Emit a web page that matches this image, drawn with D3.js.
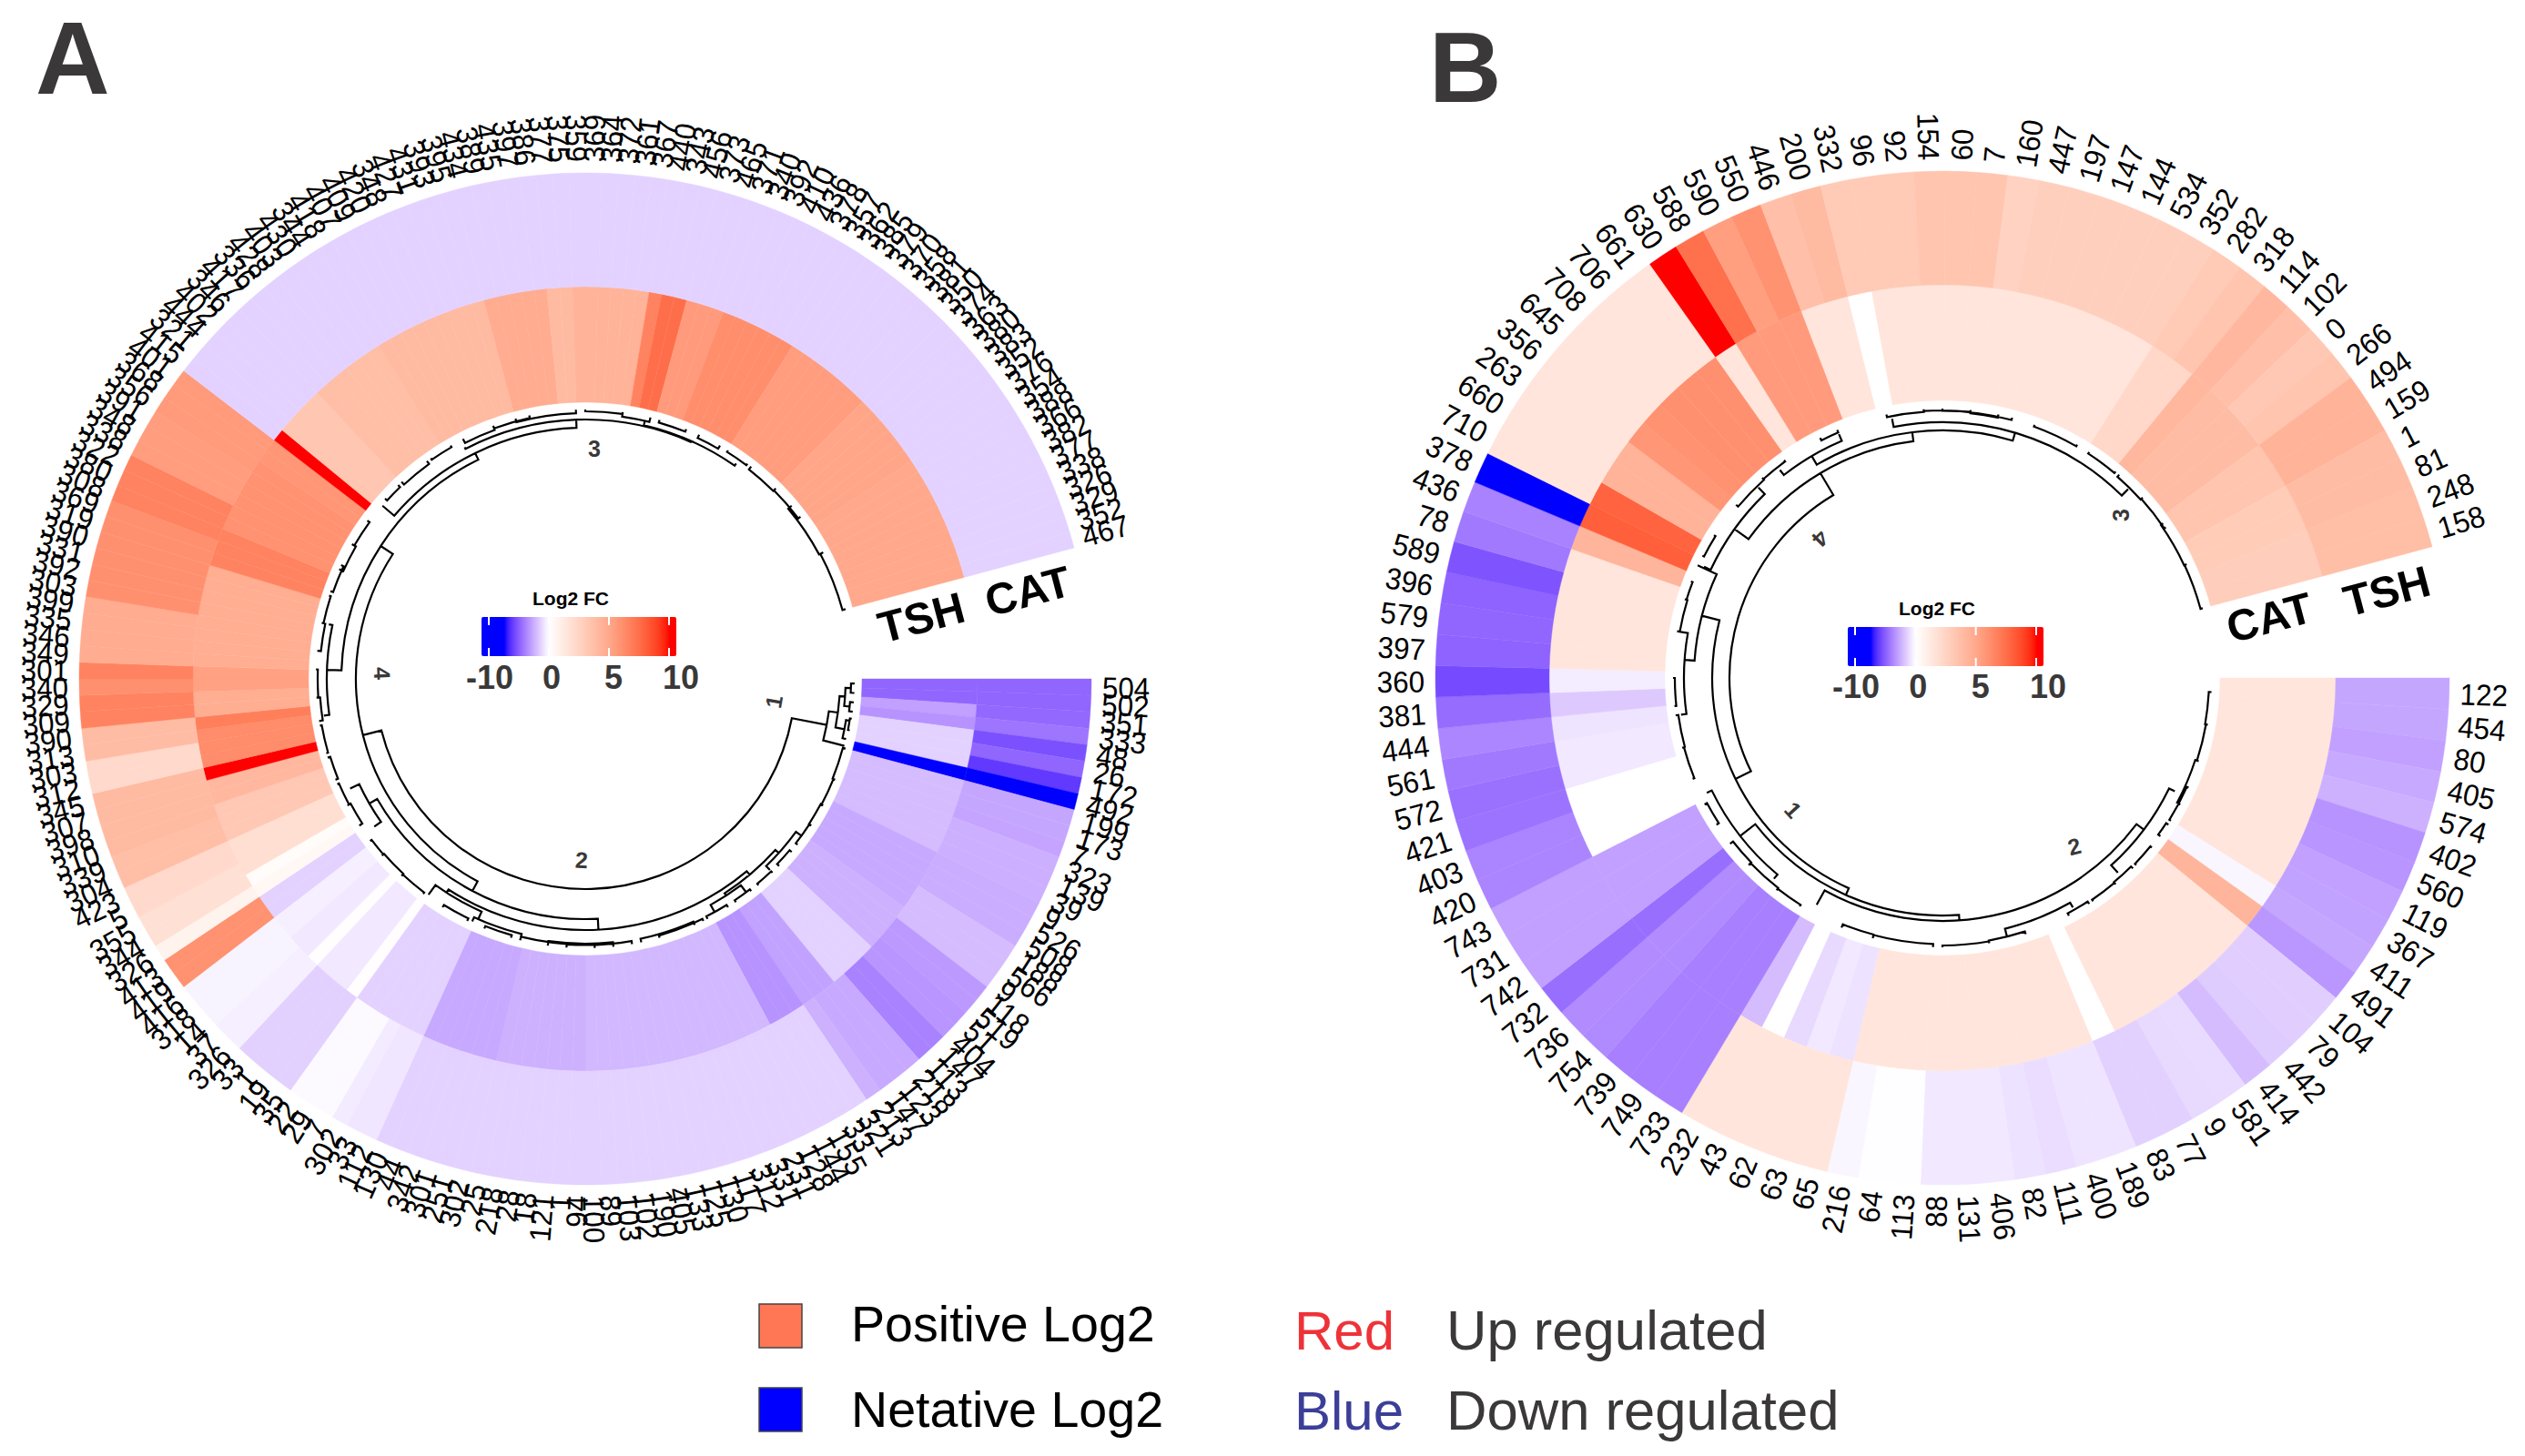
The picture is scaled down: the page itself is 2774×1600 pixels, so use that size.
<!DOCTYPE html>
<html><head><meta charset="utf-8">
<script src="https://cdn.jsdelivr.net/npm/d3@7"></script>
<style>html,body{margin:0;background:#fff}svg{display:block;font-family:"Liberation Sans",Arial,sans-serif}</style>
</head><body><svg id="c" width="2774" height="1600"></svg>
<script>
// ---------- panel A data (clockwise from due east) ----------
const labelsA=[
"504","502","351","333","48","26","172","492","199","173","7","323","139","39","9","526","508","188","566","9","118","519","51",
"404","147","113","218","123","147","213","321","33","155","144","128","231","331","312","117","130","125","133","405","190","102","103",
"89","100","94","1","121","18","28","218","25","302","251","301","342","44","130","112","33","302","7","29","22","35","19",
"1","33","326","37","14","318","416","419","413","326","344","355","5","423","304","339","310","398","307","345","312","303","313",
"390","309","329","340","301","349","346","335","399","303","392","331","390","319","369","308","380","322","338","348","391","356","368",
"401","415","321","444","402","346","417","336","428","403","430","344","418","407","409","420","348","427","431","393","395","434","389",
"435","397","386","377","375","359","369","364","372","361","367","440","343","456","373","465","371","340","392","410","436","378","357",
"362","385","379","370","358","381","350","374","363","380","383","352","376","354","388","366","382","377","338","326","329","352","467"];
const catA=[
-7,-7,-6.9,-6.3,-8,-7,-9,-11,
-4,-4,-4.1,-3.6,-3.6,-3.6,-3.7,-3.7,-3.7,-3,-3,-3,-4.6,-4.6,-4.8,-4.8,-5.7,-5.7,-3.9,-3.9,-3.9,-3.5,
-2,-2,-2,-2,-2,-2,-2,-2,-2,-2,-2,-2,-2,-2,-2,-2,-2,-2,-2,-2,-2,-2,-2,-2,-2,-2,-2,-2,-2,-2,-2,
-1.1,-1.1,-0.9,-0.2,-0.2,-0.2,-2.1,-2.1,-2.1,-2.1,-0.7,-0.7,-0.5,-0.5,-0.5,6.2,6.2,0.7,1.8,1.8,2.2,2.2,3.8,3.8,
4,4,4,4,2.2,2.2,3.9,3.9,7,7,6.3,7,4.8,4.8,4.8,4.8,6.3,6.3,6.3,6.3,6.3,6.3,7,7,7,5.6,5.6,5.6,5.8,5.8,5.8,
-2,-2,-2,-2,-2,-2,-2,-2,-2,-2,-2,-2,-2,-2,-2,-2,-2,-2,-2,-2,-2,-2,-2,-2,-2,-2,-2,-2,-2,-2,-2,-2,-2,-2,
-2,-2,-2,-2,-2,-2,-2,-2,-2,-2,-2,-2,-2,-2,-2,-2,-2,-2,-2,-2,-2,-2,-2,-2,-2,-2,-2,-2,-2,-2,-2,-2,-2,-2];
const tshA=[
-7,-7,-4.3,-4.9,-2,-2,-2,-11,
-3,-3,-3,-3,-3,-3,-3.9,-3.9,-3.9,-3.9,-3.9,-3.5,-3.5,-3.5,-3.5,-2,-2,-2,-2,-4.2,-4.2,-4.2,-4.9,-4.9,-4.9,
-3.2,-3.2,-3.2,-3.2,-3.2,-3.2,-3.2,-3.2,-3.2,-3.2,-3.2,-3.2,-3.2,-3.2,-3.2,
-3.5,-3.5,-3.5,-3.5,-3.5,-3.5,-3.5,-3.9,-3.9,-3.9,-3.9,-3.9,-3.9,
-2,-2,-2,-2,-2,-2,0.1,-1,-1,-1,0.1,-1,-1,-0.7,-0.7,-2,-2,0.4,0.2,1.9,1.9,1.9,3.2,3.2,3.2,4.1,4.1,11,
6.5,6.5,6.5,7.2,4.7,4.7,5.4,5.4,4.7,4.7,4.7,4.7,4.7,4.7,4.7,4.7,7,7,7,6.2,6.2,6.2,6.2,6.2,6.2,6,6,11,
3.3,3.3,3.3,3.3,3.8,3.8,3.8,3.8,3.8,3.8,4,4,4,4,4,4,4,4,4,4.8,4.8,4.8,4.8,4.8,4,4,
4.4,4.4,4.4,4.4,4.4,4.4,7,8,8,5.7,5.7,5.7,6.4,6.4,6.4,6.4,6.4,6.4,5.6,5.6,5.6,5.6,5.6,5.6,5.6,
5.1,5.1,5.1,5.1,5.1,5.1,5,5,5,5,5,5,5,5,5,5];
// ---------- panel B data ----------
const labelsB=["122","454","80","405","574","402","560","119","367","411","491","104","79","442","414","581","9","77","83","189","400","111","82","406","131","88","113","64","216","65","63","62","43","232","733","749","739","754","736","732","742","731","743","420","403","421","572","561","444","381","360","397","579","396","589","78","436","378","710","660","263","356","645","708","706","661","630","588","590","550","446","200","332","96","92","154","60","7","160","447","197","147","144","534","352","282","318","114","102","0","266","494","159","1","81","248","158"];
const tshB=[
-4,-4,-4.3,-3.9,-3.5,-4.9,-4.8,-4.3,-4.2,-4,-4.7,-2.2,-2.2,-2.3,-3,-1.6,-1.7,-2.1,-2.1,-1.2,-1.2,-1.5,-1.3,-1,-1,-1,-0.1,-0.1,-0.4,
1.5,1.5,1.5,1.5,1.5,-5.8,-5.8,-5.8,-5.3,-5.2,-6.6,-4.3,-4.3,-4.3,-5.6,-5.6,-6.4,-6.5,-6.1,-5.5,-6.7,-8.2,-7.1,-7,-7.1,-7.8,-6.1,-5.7,-11,
1.5,1.5,1.5,1.5,1.5,1.5,1.5,1.5,11,7.9,5.5,6.2,3.7,4,3.1,3.1,3.1,3.4,3.4,3.4,2.6,2.8,2.8,2.8,2.8,2.8,2.8,3.1,3.4,4.1,3.7,3.2,3.4,4.4,4.4,3.9,3.9,3.8,3.8];
const catB=[
1.5,1.5,1.5,1.5,1.5,1.5,1.5,1.5,1.5,-0.4,4.3,1.5,1.5,1.5,1.5,1.5,1.5,1.5,0,1.5,1.5,1.5,1.5,1.5,1.5,1.5,1.5,1.5,1.5,
-1.3,-1,-1.7,0,-3,-5.8,-5.8,-5.8,-5.3,-5.2,-6.6,-4.3,-4.3,-4.3,0,0,0,-1,-1,-1.2,-2.4,-0.8,1.5,1.5,1.5,1.5,1.5,4.3,8.7,
8.5,4.4,4.4,6,6.2,6.3,6.3,6.3,1.5,5.7,5.7,5.7,1.5,1.5,0,1.5,1.5,1.5,1.5,1.5,1.5,1.5,1.5,1.5,1.5,1.5,1.5,2.3,2.3,4.2,3.9,3.9,3.9,3.4,3.4,3,3,2.9,2.9];
// dendrogram merges: [degree a, degree b, height, height of child a, height of child b]
const treeA=[[10.8,165.8,65,26,44],[7.6,14.5,26,16,2],[3.9,11,16,10,6],[2,6,10,4,4],[1,3,4,0,0],[5,7,4,0,0],[9,13,6,2,2],[8.5,11,2,0,0],
[118,213,44,32,28],[87,150,32,20,22],[50,123,20,15,16],[145,155,22,13,11],[182,244,28,12,20],[220.5,268,20,3,11],[242.5,294,11,9,10],[283,305,10,6,7],[172,192,12,6,8],
[42,57,15,10,12],[36,46,10,3,4],[53,61,12,3,3],[114,126,16,7,3],[104,115,7,3,2],
[15,22,3,0,0],[22,28,2,0,0],[28,33,3,0,0],[33,38,2.5,0,0],[40,44,3,0,0],[46,50,2,0,0],[52,56,2.5,0,0],[58,63,3,0,0],[64,74,2.5,0,0],[66,78,4,0,0],[80,94,3.5,0,0],[84,98,5,0,0],[88,104,4,0,0],[106,112,3,0,0],[116,122,3,0,0],[127,133,2,0,0],[133,139,3,0,0],[139,143,2,0,0],[147,152,4,0,0],[152,157,2,0,0],[158,163,3,0,0],[164,170,2,0,0],[171,176,4,0,0],[176,182,2,0,0],[186,192,4,0,0],[192,198,2,0,0],[199,205,3,0,0],[204,210,5,0,0],[210,216,3,0,0],[222,226,3,0,0],[227,234,4,0,0],[235,240,2,0,0],[243,250,5,0,0],[250,258,3,0,0],[255,268,4,0,0],[270,278,2,0,0],[278,284,5,0,0],[286,292,3,0,0],[295,300,4,0,0],[302,307,2,0,0],[308,315,4,0,0],[315,323,3,0,0],[320,332,5,0,0],[332,345,3.5,0,0]];
const treeB=[[154,239.2,62,44,35],[114,194.5,43,35,23],[86,142,35,29,14],[37,119,29,19,11],[26,48,19,12,8],[60.4,76,12,6,4],[130,154,14,8,8],[184,204.7,23,12,0],[172,190,12,6,4],
[215.6,263,34,15,24],[239.5,286.5,24,13,15],[259,314.5,15,6,5],[232,247,13,6,5],[205,226,15,7,5],
[3,10,3,0,0],[10,18,2,0,0],[18,28,4,0,0],[24,32,2,0,0],[33,36,3,0,0],[39,44,2,0,0],[45,50,3,0,0],[50,56,2,0,0],[57,62,3,0,0],[72,80,3,0,0],[80,90,2,0,0],[92,105,3.5,0,0],[105,112,4,0,0],[122,128,2,0,0],[128,136,3,0,0],[136,142,4,0,0],[147,152,3,0,0],[158,165,2,0,0],[165,172,3,0,0],[174,180,2,0,0],[190,197,3,0,0],[197,201,2,0,0],[207,212,2,0,0],[220,228,3,0,0],[228,234,2,0,0],[243,247,3,0,0],[258,266,3,0,0],[266,276,2,0,0],[270,285,2.5,0,0],[276,282,3.5,0,0],[290,300,2,0,0],[303,310,2,0,0],[311,318,3,0,0],[318,326,2,0,0],[325,335,3,0,0],[335,345,2.5,0,0]];
const legendTicks=[-10,0,5,10];
const legendText=["Positive Log2","Netative Log2"];
const sideNames=["Red","Blue"], sideText=["Up regulated","Down regulated"];

// ---------- scales ----------
const color=d3.scaleLinear().domain([-10.7,0,11]).range(["#0000ff","#ffffff","#ff0000"]).interpolate(d3.interpolateLab).clamp(true);
const svg=d3.select("#c");
const ink="#3a3838", tau=Math.PI/180;

function panel(o){
  const g=svg.append("g").attr("transform",`translate(${o.cx},${o.cy})`);
  const n=o.labels.length;
  const rowAngle=d3.scaleLinear().domain([0,n]).range([0,345*tau]);
  const degAngle=d3.scaleLinear().domain([0,360]).range([0,360*tau]);
  const rDend=d3.scaleLinear().domain([0,100]).range([296,196]);
  const arc=d3.arc();
  o.rings.forEach(ring=>{
    g.append("g").selectAll("path").data(ring.values).join("path")
      .attr("d",(v,i)=>arc({innerRadius:ring.r0,outerRadius:ring.r1,startAngle:rowAngle(i)+Math.PI/2,endAngle:rowAngle(i+1)+Math.PI/2}))
      .attr("fill",v=>color(v)).attr("stroke",v=>color(v)).attr("stroke-width",0.4);
  });
  // row labels
  g.append("g").selectAll("text").data(o.labels).join("text")
    .attr("font-size",33).attr("fill","#000").attr("dy","0.36em")
    .attr("transform",(d,i)=>{const a=rowAngle(i+0.5),deg=a/tau,x=Math.cos(a)*o.rLabel,y=Math.sin(a)*o.rLabel;
      return `translate(${x},${y}) rotate(${Math.cos(a)>=0?deg:deg+180}) scale(0.95,1)`;})
    .attr("text-anchor",(d,i)=>Math.cos(rowAngle(i+0.5))>=0?"start":"end")
    .text(d=>d);
  // dendrogram
  const p=d3.path();
  o.tree.forEach(([a,b,h,ha,hb])=>{
    const t0=degAngle(a),t1=degAngle(b),r=rDend(h);
    p.moveTo(rDend(ha)*Math.cos(t0),rDend(ha)*Math.sin(t0));
    p.lineTo(r*Math.cos(t0),r*Math.sin(t0));
    p.arc(0,0,r,t0,t1);
    p.lineTo(rDend(hb)*Math.cos(t1),rDend(hb)*Math.sin(t1));
  });
  g.append("path").attr("d",p.toString()).attr("fill","none").attr("stroke","#000").attr("stroke-width",2.2);
  // panel-level text
  svg.selectAll(null).data(o.clusters).join("text")
    .attr("transform",d=>`translate(${d.x},${d.y}) rotate(${d.rot})`)
    .attr("text-anchor","middle").attr("dy","0.36em").attr("font-size",25).attr("font-weight","bold").attr("fill",ink).text(d=>d.t);
  svg.selectAll(null).data(o.trackNames).join("text")
    .attr("transform",d=>`translate(${d.x},${d.y}) rotate(-14.8)`)
    .attr("text-anchor","middle").attr("dy","0.36em").attr("font-size",48).attr("font-weight","bold").attr("fill","#000").text(d=>d.t);
  svg.append("text").attr("x",o.letter.x).attr("y",o.letter.y).attr("font-size",o.letter.size).attr("font-weight","bold").attr("fill",ink).text(o.letter.t);
  // colour bar
  const lg=o.bar, id="grad"+o.letter.t;
  const tickX=d3.scalePoint().domain(legendTicks).range([lg.t0,lg.t1]);
  const unit=tickX(0)-tickX(-10);
  const posVal=d3.scaleLinear().domain([lg.x0,tickX(-10)+unit*0.27,tickX(0),tickX(5),tickX(10),lg.x1]).range([-10.7,-10.7,0,5,11,11]);
  const grad=svg.append("defs").append("linearGradient").attr("id",id);
  d3.range(0,1.0001,1/60).forEach(f=>{
    grad.append("stop").attr("offset",f).attr("stop-color",color(posVal(lg.x0+f*(lg.x1-lg.x0))));
  });
  svg.append("rect").attr("x",lg.x0).attr("y",lg.y).attr("width",lg.x1-lg.x0).attr("height",43).attr("rx",2).attr("fill",`url(#${id})`);
  legendTicks.forEach((t,i)=>{
    [[lg.y,lg.y+9],[lg.y+34,lg.y+43]].forEach(s=>svg.append("line").attr("x1",tickX(t)).attr("x2",tickX(t)).attr("y1",s[0]).attr("y2",s[1]).attr("stroke","#fff").attr("stroke-width",2));
    svg.append("text").attr("x",tickX(t)+[1,3,5,13][i]).attr("y",lg.y+79-(o.letter.t==="B"?1:0)).attr("text-anchor","middle").attr("font-size",36).attr("font-weight","bold").attr("fill",ink).text(t);
  });
  svg.append("text").attr("x",lg.title).attr("y",lg.y-13).attr("text-anchor","middle").attr("font-size",21).attr("font-weight","bold").attr("fill","#000").text("Log2 FC");
}

panel({cx:643,cy:746,labels:labelsA,rLabel:568,tree:treeA,
  rings:[{values:tshA,r0:304,r1:431},{values:catA,r0:431,r1:556}],
  clusters:[{t:"1",x:850,y:771,rot:-80},{t:"2",x:639,y:945,rot:3},{t:"3",x:653,y:493,rot:0},{t:"4",x:420,y:740,rot:88}],
  trackNames:[{t:"TSH",x:1012,y:678},{t:"CAT",x:1129,y:649}],
  letter:{t:"A",x:39,y:103,size:113},
  bar:{x0:529,x1:743,y:678,t0:537,t1:735,title:627}});
panel({cx:2134,cy:745,labels:labelsB,rLabel:569,tree:treeB,
  rings:[{values:catB,r0:305,r1:432},{values:tshB,r0:432,r1:557}],
  clusters:[{t:"1",x:1970,y:890,rot:48},{t:"2",x:2279,y:930,rot:-15},{t:"3",x:2330,y:566,rot:-90},{t:"4",x:2000,y:592,rot:135}],
  trackNames:[{t:"CAT",x:2493,y:678},{t:"TSH",x:2622,y:649}],
  letter:{t:"B",x:1570,y:112,size:110},
  bar:{x0:2030,x1:2245,y:689,t0:2038,t1:2237,title:2128}});

// ---------- key ----------
const keyY=d3.scalePoint().domain(legendText).range([1457,1549]);
const keyFill=d3.scaleOrdinal().domain(legendText).range(["#ff7755","#0000ff"]);
legendText.forEach(t=>{
  svg.append("rect").attr("x",834).attr("y",keyY(t)-24).attr("width",47).attr("height",48).attr("fill",keyFill(t)).attr("stroke","#444").attr("stroke-width",1.5);
  svg.append("text").attr("x",935).attr("y",keyY(t)+(t===legendText[0]?17:19)).attr("font-size",55.6).attr("fill","#000").text(t);
});
const sideY=d3.scalePoint().domain(sideNames).range([1483,1571]);
const sideFill=d3.scaleOrdinal().domain(sideNames).range(["#ee3338","#3b3f98"]);
sideNames.forEach((t,i)=>{
  svg.append("text").attr("x",1422).attr("y",sideY(t)).attr("font-size",60).attr("fill",sideFill(t)).text(t);
  svg.append("text").attr("x",1589).attr("y",sideY(t)).attr("font-size",61.6).attr("fill",ink).text(sideText[i]);
});
</script></body></html>
